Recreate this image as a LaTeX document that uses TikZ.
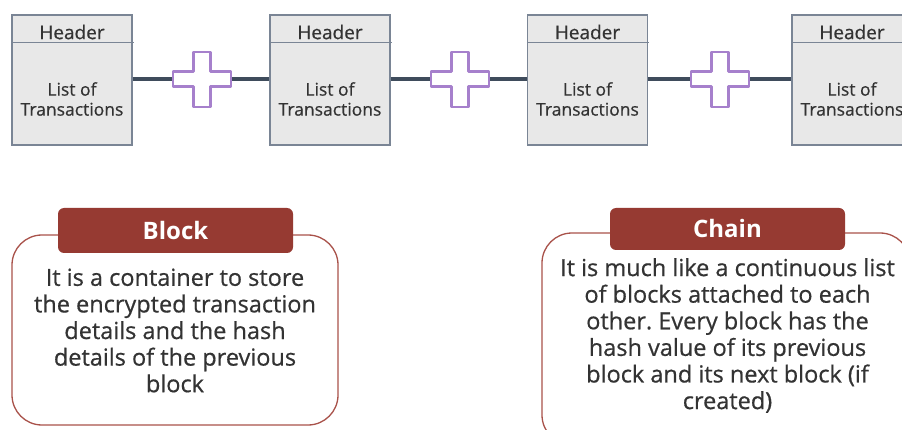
\documentclass[tikz,border=0pt]{standalone}
\usepackage{fontspec}
\setmainfont{Open Sans}
\newfontfamily\heavyish[FakeBold=0.6]{Open Sans}
\frenchspacing
\definecolor{boxfill}{HTML}{E8E8E8}
\definecolor{boxline}{HTML}{7A8595}
\definecolor{linkline}{HTML}{3F4C5C}
\definecolor{crosscol}{HTML}{A680CC}
\definecolor{tabred}{HTML}{963A32}
\definecolor{panelline}{HTML}{A9524A}
\definecolor{txt}{HTML}{333333}
\tikzset{
  blockbox/.style={draw=boxline, line width=1.2pt, fill=boxfill, minimum width=120pt, minimum height=130pt, inner sep=0pt},
  smalltxt/.style={text=txt, font=\heavyish\fontsize{17.5}{20}\selectfont, align=center, inner sep=0pt},
  headtxt/.style={text=txt, font=\heavyish\fontsize{19}{22}\selectfont, inner sep=0pt},
  link/.style={draw=linkline, line width=4.8pt},
  crossmark/.pic={\draw[crosscol, line width=2.8pt, fill=white, line join=round]
      (-29,-7.5) -- (-8.5,-7.5) -- (-8.5,-27) -- (8.5,-27) -- (8.5,-7.5) -- (29,-7.5)
      -- (29,7.5) -- (8.5,7.5) -- (8.5,28) -- (-8.5,28) -- (-8.5,7.5) -- (-29,7.5) -- cycle;},
  panel/.style={draw=panelline, line width=1.3pt, rounded corners=30pt, inner sep=0pt},
  tab/.style={fill=tabred, rounded corners=6pt, inner sep=0pt, minimum width=235pt, text=white, font=\fontsize{24}{28}\selectfont\bfseries},
  bodytxt/.style={text=txt, font=\heavyish\fontsize{23.5}{26.6}\selectfont, align=center, inner sep=0pt}
}
\begin{document}
\begin{tikzpicture}[x=1pt,y=-1pt]
\clip (0,0) rectangle (902,430);
\fill[white] (0,0) rectangle (902,430);

% chain of blocks
\foreach \n/\cx in {1/72, 2/330, 3/587.5, 4/852} {
  \node[blockbox] (b\n) at (\cx,80) {};
  \draw[boxline, line width=1.2pt] ([yshift=-28pt]b\n.north west) -- ([yshift=-28pt,xshift=1pt]b\n.north east);
  \node[headtxt] (h\n) at (\cx,32) {Header};
  \node[smalltxt] (t\n) at (\cx,99) {List of\\Transactions};
}
\coordinate (p1) at (202,79);
\coordinate (p2) at (460,79);
\coordinate (p3) at (720,79);
\draw[link] (b1.east |- p1) -- (p1) -- (b2.west |- p1);
\draw[link] (b2.east |- p2) -- (p2) -- (b3.west |- p2);
\draw[link] (b3.east |- p3) -- (p3) -- (b4.west |- p3);
\pic at (p1) {crossmark};
\pic at (p2) {crossmark};
\pic at (p3) {crossmark};

% Block panel
\node[panel, minimum width=326pt, minimum height=190pt] (blk) at (175,330) {};
\node[tab, minimum height=45pt] (blktab) at (175.5,230.5) {Block};
\node[bodytxt] (blktxt) at (175,330.5) {It is a container to store\\the encrypted transaction\\details and the hash\\details of the previous\\block};

% Chain panel
\node[panel, minimum width=368pt, minimum height=212pt] (chn) at (726,339) {};
\node[tab, minimum height=42pt] (chntab) at (727.5,229) {Chain};
\node[bodytxt] (chntxt) at (727.5,335.5) {It is much like a continuous list\\of blocks attached to each\\other. Every block has the\\hash value of its previous\\block and its next block (if\\created)};
\end{tikzpicture}
\end{document}
